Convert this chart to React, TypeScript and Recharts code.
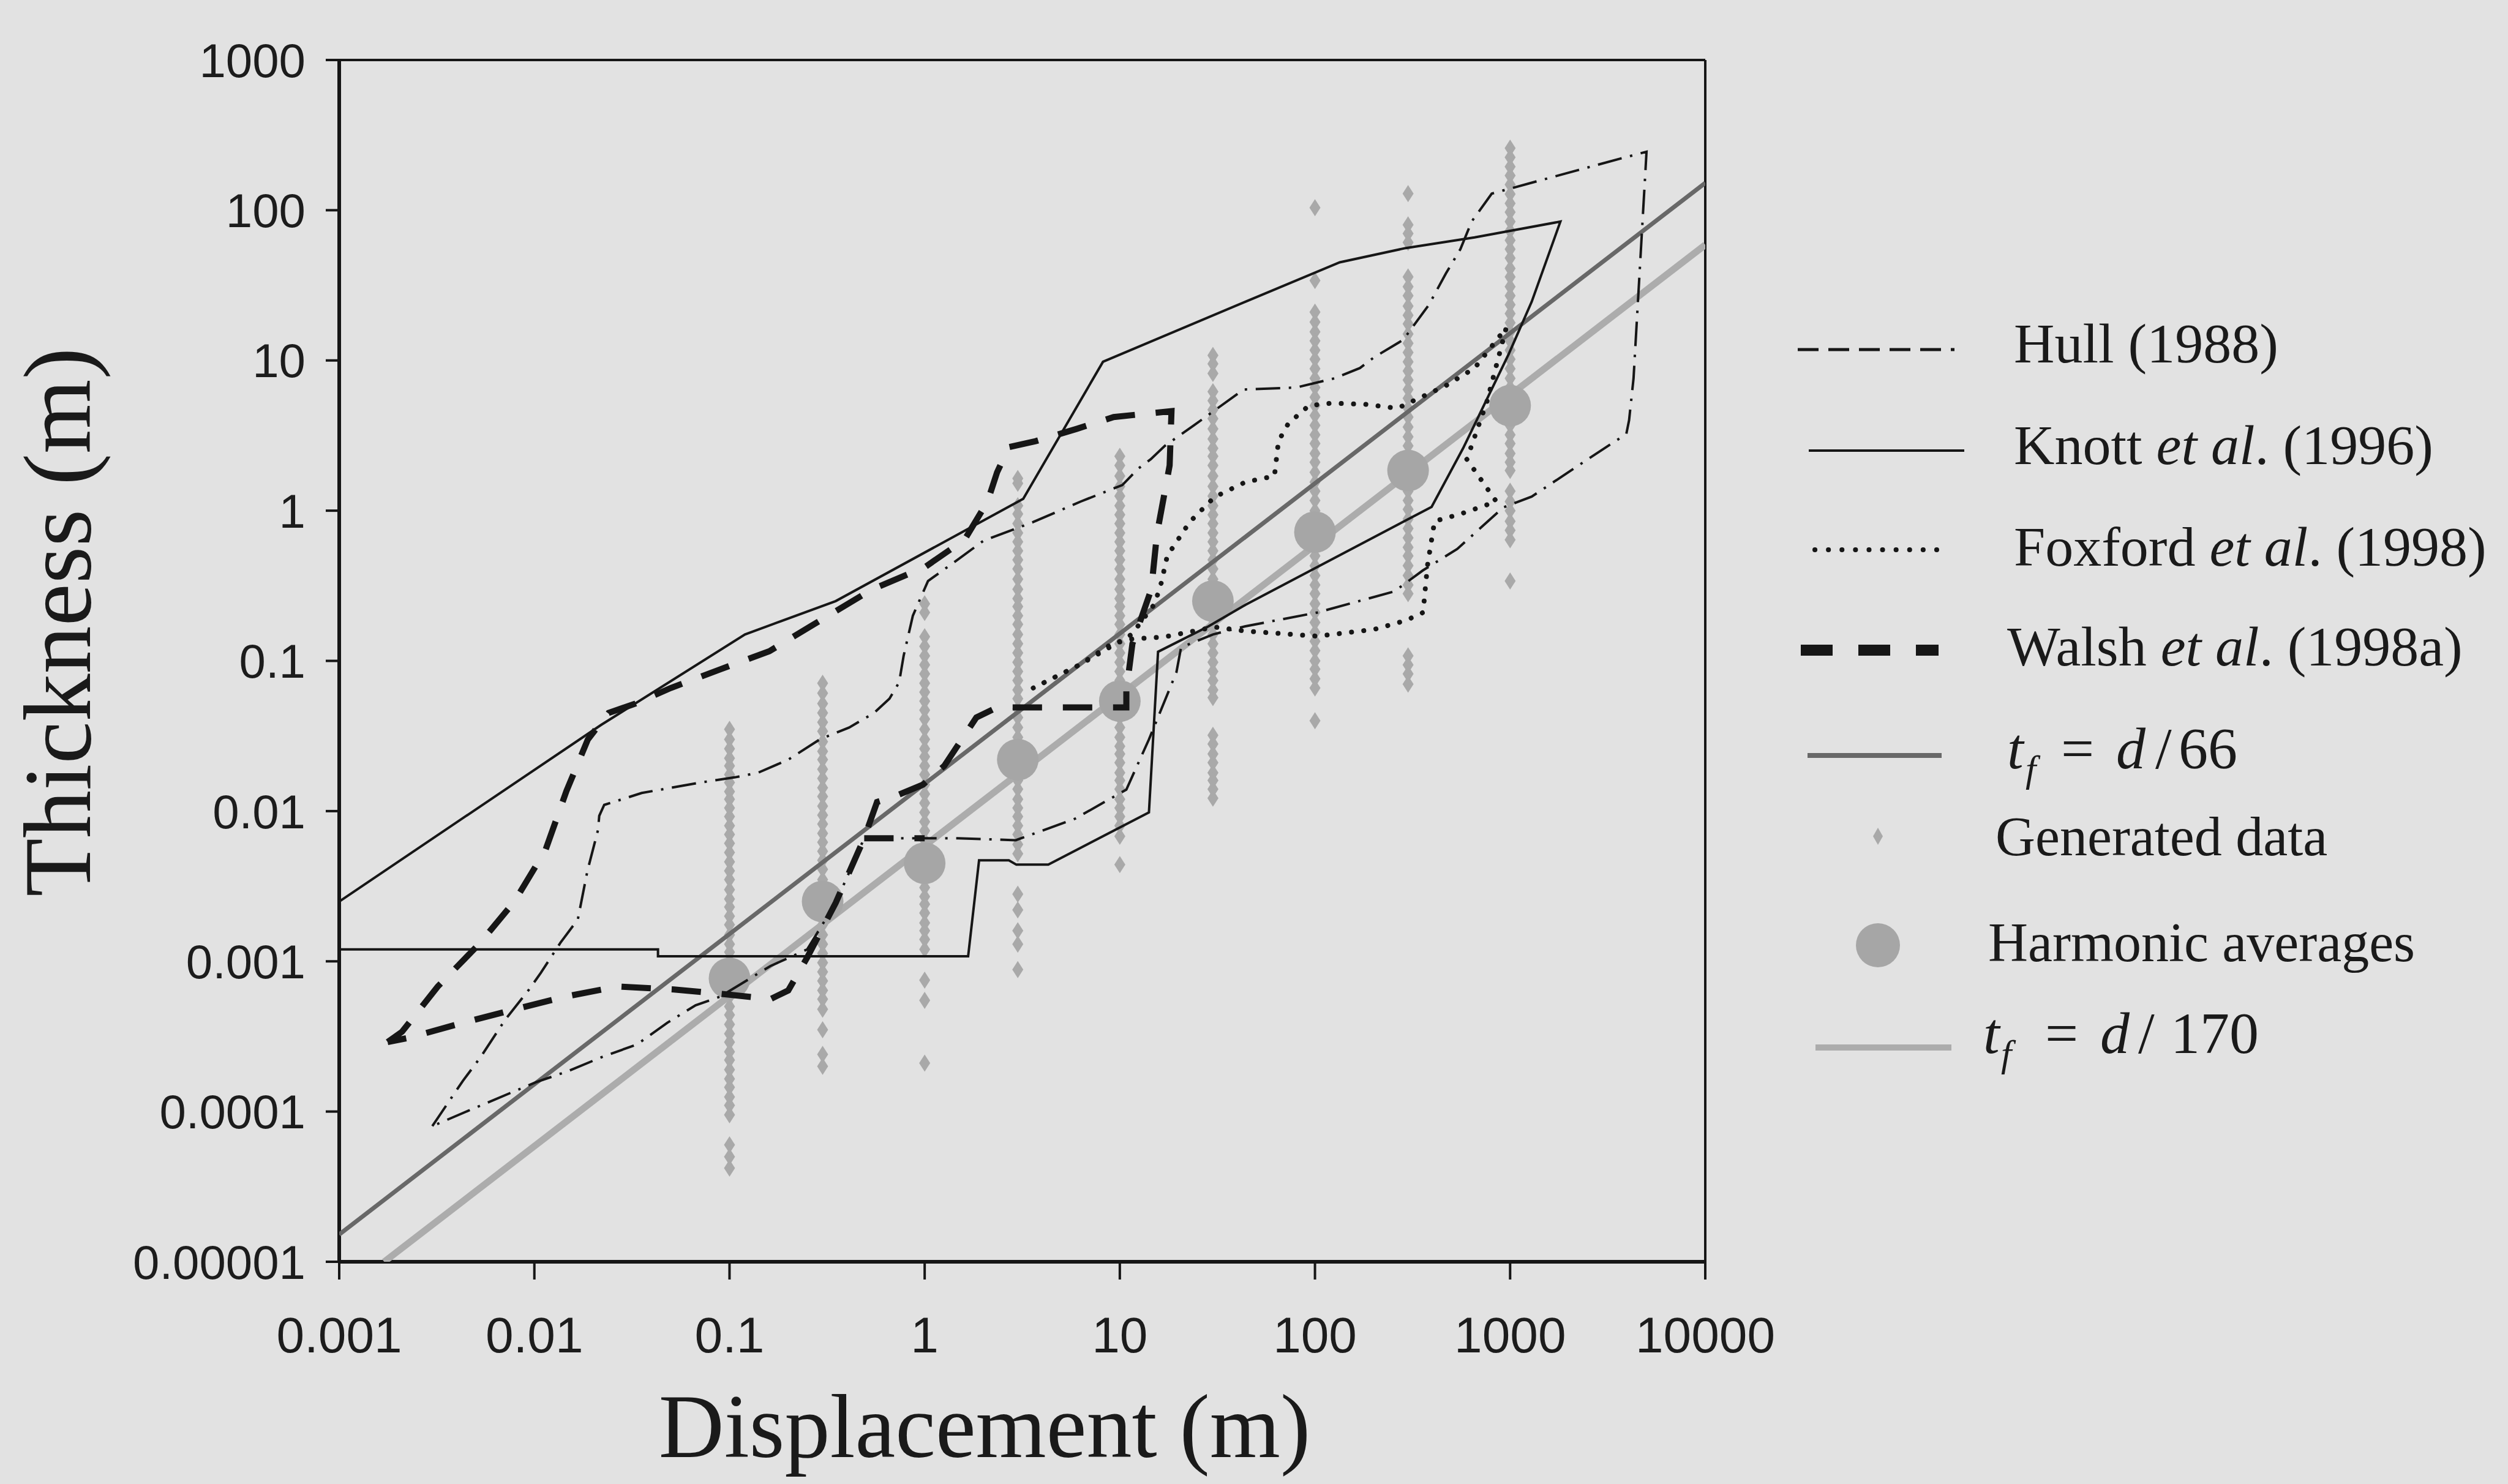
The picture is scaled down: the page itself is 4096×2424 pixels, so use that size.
import React from 'react';
import { ScatterChart, Scatter, XAxis, YAxis, ReferenceLine } from 'recharts';

type Pair = [number, number];

const xTicks = [0.001, 0.01, 0.1, 1, 10, 100, 1000, 10000];
const yTicks = [0.00001, 0.0001, 0.001, 0.01, 0.1, 1, 10, 100, 1000];

// envelopes, [displacement, thickness]
const hull: Pair[] = [
  [0.003, 0.00008], [0.0043, 0.00016], [0.0053, 0.00023], [0.0071, 0.00041], [0.0094, 0.00065],
  [0.0108, 0.00084], [0.0136, 0.00133], [0.0167, 0.0019], [0.0187, 0.004], [0.0212, 0.0075],
  [0.0215, 0.0093], [0.0228, 0.011], [0.026, 0.0116], [0.0355, 0.0132], [0.071, 0.0155],
  [0.107, 0.0168], [0.14, 0.018], [0.2, 0.022], [0.29, 0.03], [0.41, 0.036], [0.55, 0.045],
  [0.66, 0.056], [0.74, 0.072], [0.78, 0.108], [0.87, 0.2], [1.04, 0.34], [1.47, 0.47],
  [2.0, 0.63], [3.6, 0.84], [6.3, 1.15], [10.3, 1.48], [12.4, 1.9], [14.4, 2.2], [17, 2.7],
  [24, 3.7], [43, 6.4], [80, 6.6], [126, 7.6], [170, 8.9], [201, 10.5], [283, 13.7],
  [383, 23.4], [469, 38], [556, 55], [635, 84], [805, 129], [1480, 160], [3690, 221],
  [5000, 245], [4290, 7.6], [4070, 4.0], [3940, 3.24], [2540, 2.23], [1290, 1.24], [922, 1.05],
  [536, 0.556], [357, 0.4], [255, 0.29], [103, 0.21], [44, 0.17], [30, 0.15], [20.6, 0.123],
  [19.5, 0.084], [14.1, 0.03], [10.8, 0.0139], [5.9, 0.0089], [2.93, 0.0064], [1.48, 0.0066],
  [0.49, 0.0066], [0.35, 0.00245], [0.25, 0.0012], [0.162, 0.00093], [0.089, 0.00058],
  [0.067, 0.00051], [0.048, 0.00039], [0.0336, 0.00028], [0.0221, 0.00023], [0.0146, 0.000184],
  [0.0102, 0.000157], [0.0049, 0.000105], [0.003, 0.00008],
];

const knott: Pair[] = [
  [0.001, 0.0025], [0.022, 0.0375], [0.12, 0.15], [0.35, 0.25], [3.2, 1.2], [8.2, 9.8],
  [44, 24.6], [134, 45], [292, 56], [658, 66], [1810, 84], [1290, 24.6], [986, 11.1],
  [574, 2.6], [396, 1.06], [44, 0.236], [28.5, 0.17], [15.7, 0.115], [14.1, 0.0098],
  [4.3, 0.0044], [2.95, 0.0044], [2.7, 0.0047], [1.9, 0.0047], [1.67, 0.00108],
  [0.043, 0.00108], [0.043, 0.0012], [0.001, 0.0012], [0.001, 0.0025],
];

const foxford: Pair[] = [
  [3.6, 0.066], [6.3, 0.095], [9.1, 0.13], [11.6, 0.14], [16.7, 0.144], [30.5, 0.168],
  [44, 0.158], [103, 0.146], [201, 0.162], [293, 0.186], [358, 0.21], [377, 0.43], [410, 0.85],
  [556, 0.95], [850, 1.15], [600, 2.2], [760, 5.3], [955, 16.5], [658, 8.9], [469, 6.8],
  [264, 4.8], [182, 5.1], [122, 5.2], [93, 5.0], [73, 3.8], [65, 2.9], [62, 1.7], [44, 1.55],
  [30.5, 1.23], [22.8, 0.84], [17.5, 0.5], [16.3, 0.33], [15.1, 0.24], [11.5, 0.15],
  [6.3, 0.095], [3.6, 0.066],
];

const walsh: Pair[] = [
  [0.00177, 0.00029], [0.0021, 0.00034], [0.0032, 0.00068], [0.0052, 0.0013], [0.0079, 0.0025],
  [0.0114, 0.0055], [0.0146, 0.0136], [0.0188, 0.03], [0.024, 0.045], [0.033, 0.052],
  [0.05, 0.066], [0.09, 0.088], [0.16, 0.116], [0.3, 0.19], [0.54, 0.3], [1.0, 0.42],
  [1.6, 0.64], [2.1, 1.15], [2.35, 1.8], [2.7, 2.65], [3.7, 2.9], [6, 3.5], [9.3, 4.2],
  [18.4, 4.6], [18, 2.0], [15.5, 0.7], [14.5, 0.3], [11.6, 0.13], [10.8, 0.063], [10.8, 0.049],
  [2.35, 0.049], [1.84, 0.042], [1.26, 0.02], [0.98, 0.015], [0.7, 0.0125], [0.57, 0.0115],
  [0.49, 0.0066], [0.35, 0.00245], [0.25, 0.00106], [0.2, 0.00064], [0.162, 0.00056],
  [0.1, 0.0006], [0.052, 0.00065], [0.0268, 0.00068], [0.0142, 0.00058], [0.0075, 0.00047],
  [0.004, 0.00038], [0.00228, 0.00031], [0.00177, 0.00029],
];
const walshStep: Pair[] = [[0.49, 0.0066], [1.0, 0.0066]];

const fitD66: Pair[] = [[0.001, 0.0000152], [10000, 152]];
const fitD170: Pair[] = [[0.0017, 0.00001], [10000, 58.8]];

// generated data columns
const genD = [0.1, 0.3, 1, 3, 10, 30, 100, 300, 1000];
const gen01 = [0.035, 0.03, 0.026, 0.0225, 0.02, 0.0175, 0.0155, 0.0135, 0.012, 0.0105, 0.0092, 0.008, 0.007, 0.0061, 0.0053, 0.0046, 0.004, 0.0035, 0.003, 0.0026, 0.0023, 0.002, 0.00175, 0.0015, 0.0013, 0.00115, 0.001, 0.00088, 0.00077, 0.00067, 0.00058, 0.0005, 0.00044, 0.00038, 0.00033, 0.00029, 0.00025, 0.00022, 0.00019, 0.000165, 0.000145, 0.000125, 0.00011, 0.000095, 0.00006, 0.00005, 0.000042];
const gen03 = [0.071, 0.061, 0.052, 0.045, 0.039, 0.034, 0.029, 0.025, 0.022, 0.019, 0.0165, 0.0143, 0.0125, 0.0108, 0.0094, 0.0082, 0.0071, 0.0062, 0.0054, 0.0047, 0.0041, 0.0035, 0.003, 0.0026, 0.0023, 0.002, 0.00175, 0.0015, 0.0013, 0.00113, 0.00098, 0.00085, 0.00074, 0.00064, 0.00056, 0.00048, 0.00035, 0.00024, 0.0002];
const gen1 = [0.24, 0.21, 0.145, 0.125, 0.108, 0.094, 0.082, 0.071, 0.062, 0.054, 0.047, 0.041, 0.035, 0.03, 0.026, 0.023, 0.02, 0.0175, 0.015, 0.013, 0.0113, 0.0098, 0.0085, 0.0074, 0.0064, 0.0056, 0.0048, 0.0042, 0.0036, 0.0031, 0.0027, 0.0024, 0.0021, 0.0018, 0.0016, 0.0014, 0.0012, 0.00075, 0.00055, 0.00021];
const gen3 = [1.64, 1.52, 1.08, 0.95, 0.82, 0.71, 0.62, 0.54, 0.47, 0.41, 0.35, 0.3, 0.26, 0.23, 0.2, 0.175, 0.15, 0.13, 0.113, 0.098, 0.085, 0.074, 0.064, 0.056, 0.048, 0.042, 0.036, 0.031, 0.027, 0.024, 0.021, 0.018, 0.016, 0.014, 0.012, 0.0105, 0.0092, 0.008, 0.007, 0.006, 0.0052, 0.0028, 0.0022, 0.0016, 0.0013, 0.00088];
const gen10 = [2.3, 2.0, 1.7, 1.45, 1.25, 1.08, 0.94, 0.82, 0.71, 0.62, 0.54, 0.47, 0.41, 0.35, 0.3, 0.26, 0.23, 0.2, 0.175, 0.15, 0.13, 0.113, 0.098, 0.085, 0.074, 0.064, 0.056, 0.048, 0.042, 0.036, 0.031, 0.027, 0.024, 0.021, 0.018, 0.016, 0.014, 0.012, 0.0105, 0.0092, 0.008, 0.0068, 0.0044];
const gen30 = [10.8, 9.5, 8.2, 6.2, 5.4, 4.7, 4.1, 3.5, 3.0, 2.6, 2.3, 2.0, 1.7, 1.45, 1.25, 1.08, 0.94, 0.82, 0.71, 0.62, 0.54, 0.47, 0.41, 0.35, 0.3, 0.26, 0.23, 0.2, 0.175, 0.15, 0.13, 0.113, 0.098, 0.085, 0.074, 0.064, 0.057, 0.032, 0.028, 0.024, 0.021, 0.018, 0.016, 0.014, 0.0122];
const gen100 = [104, 34, 21, 18, 15.5, 13.5, 11.7, 10.2, 8.8, 7.6, 6.6, 5.7, 5.0, 4.3, 3.7, 3.2, 2.8, 2.4, 2.1, 1.8, 1.55, 1.35, 1.17, 1.0, 0.88, 0.76, 0.66, 0.57, 0.5, 0.43, 0.37, 0.32, 0.28, 0.24, 0.21, 0.18, 0.155, 0.135, 0.117, 0.1, 0.088, 0.076, 0.066, 0.04];
const gen300 = [129, 80, 70, 61, 36, 31, 27, 23, 20, 17.5, 15, 13, 11.3, 9.8, 8.5, 7.4, 6.4, 5.6, 4.8, 4.2, 3.6, 3.1, 2.7, 2.35, 2.05, 1.78, 1.55, 1.35, 1.17, 1.02, 0.88, 0.76, 0.66, 0.57, 0.5, 0.43, 0.37, 0.32, 0.28, 0.108, 0.094, 0.082, 0.07];
const gen1000 = [259, 225, 195, 170, 148, 128, 111, 97, 84, 73, 63, 55, 48, 41, 36, 31, 27, 23.5, 20.5, 17.8, 15.5, 13.5, 11.7, 10.2, 8.8, 7.6, 6.6, 5.7, 5.0, 4.3, 3.7, 3.2, 2.8, 2.4, 2.1, 1.85, 1.35, 1.15, 1.0, 0.85, 0.74, 0.64, 0.34];
const genColumns = [gen01, gen03, gen1, gen3, gen10, gen30, gen100, gen300, gen1000];

const harmonicT = [0.00077, 0.0025, 0.0045, 0.022, 0.054, 0.25, 0.72, 1.85, 5.0];

const toPts = (pairs: Pair[]) => pairs.map(([d, t]) => ({ d, t }));
const generated = genD.flatMap((d, i) => genColumns[i].map((t) => ({ d, t })));
const harmonic = genD.map((d, i) => ({ d, t: harmonicT[i] }));

const INK = '#161616';
const GEN = '#a9a9a9';
const sans = '"Liberation Sans", Arial, sans-serif';
const serif = '"Liberation Serif", "Times New Roman", serif';

const NoDot = () => <g />;
const DiamondDot = (p: any) => (
  <path
    d={`M${p.cx},${p.cy - 14}L${p.cx + 9},${p.cy}L${p.cx},${p.cy + 14}L${p.cx - 9},${p.cy}Z`}
    fill={GEN}
  />
);
const BigDot = (p: any) => <circle cx={p.cx} cy={p.cy} r={34} fill="#a6a6a6" />;

const hullStyle = { stroke: INK, strokeWidth: 4, strokeDasharray: '40 14 4 14' };
const knottStyle = { stroke: INK, strokeWidth: 4 };
const foxStyle = { stroke: INK, strokeWidth: 8, strokeDasharray: '0.1 20', strokeLinecap: 'round' };
const walshStyle = { stroke: INK, strokeWidth: 10, strokeDasharray: '48 34' };

export default function App() {
  return (
    <div
      style={{
        position: 'absolute',
        left: 0,
        top: 0,
        width: 4096,
        height: 2424,
        background: '#e2e2e2',
        overflow: 'hidden',
      }}
    >
      <ScatterChart width={4096} height={2424} margin={{ top: 98, right: 1311, bottom: 0, left: 0 }}>
        <XAxis
          type="number"
          dataKey="d"
          scale="log"
          domain={[0.001, 10000]}
          ticks={xTicks}
          interval={0}
          allowDataOverflow
          height={363}
          tickFormatter={(v) => String(v)}
          tick={{ fontSize: 82, fill: '#1c1c1c', fontFamily: sans }}
          tickSize={29}
          tickMargin={61}
          axisLine={{ stroke: INK, strokeWidth: 6 }}
          tickLine={{ stroke: INK, strokeWidth: 4 }}
        />
        <YAxis
          type="number"
          dataKey="t"
          scale="log"
          domain={[0.00001, 1000]}
          ticks={yTicks}
          interval={0}
          allowDataOverflow
          width={554}
          tickFormatter={(v) => String(v)}
          tick={{ fontSize: 78, fill: '#1c1c1c', fontFamily: sans }}
          tickSize={22}
          tickMargin={33}
          axisLine={{ stroke: INK, strokeWidth: 6 }}
          tickLine={{ stroke: INK, strokeWidth: 4 }}
        />
        <ReferenceLine y={1000} stroke={INK} strokeWidth={4} />
        <ReferenceLine x={10000} stroke={INK} strokeWidth={4} />

        <Scatter name="Generated data" data={generated} shape={DiamondDot} isAnimationActive={false} />
        <Scatter
          name="d170"
          data={toPts(fitD170)}
          shape={NoDot}
          line={{ stroke: '#acacac', strokeWidth: 11 }}
          isAnimationActive={false}
        />
        <Scatter name="Harmonic averages" data={harmonic} shape={BigDot} isAnimationActive={false} />
        <Scatter
          name="d66"
          data={toPts(fitD66)}
          shape={NoDot}
          line={{ stroke: '#686868', strokeWidth: 7 }}
          isAnimationActive={false}
        />
        <Scatter name="Hull" data={toPts(hull)} shape={NoDot} line={hullStyle} isAnimationActive={false} />
        <Scatter name="Knott" data={toPts(knott)} shape={NoDot} line={knottStyle} isAnimationActive={false} />
        <Scatter name="Foxford" data={toPts(foxford)} shape={NoDot} line={foxStyle} isAnimationActive={false} />
        <Scatter name="Walsh" data={toPts(walsh)} shape={NoDot} line={walshStyle} isAnimationActive={false} />
        <Scatter name="Walsh step" data={toPts(walshStep)} shape={NoDot} line={walshStyle} isAnimationActive={false} />
      </ScatterChart>

      {/* titles and legend */}
      <svg
        width={4096}
        height={2424}
        style={{ position: 'absolute', left: 0, top: 0, pointerEvents: 'none' }}
      >
        <text
          x={147}
          y={1016}
          transform="rotate(-90 147 1016)"
          textAnchor="middle"
          fontSize={156}
          fontFamily={serif}
          fill="#1a1a1a"
        >
          Thickness (m)
        </text>
        <text x={1608} y={2380} textAnchor="middle" fontSize={148} fontFamily={serif} fill="#1a1a1a">
          Displacement (m)
        </text>

        <g fontFamily={serif} fill="#1a1a1a" fontSize={92}>
          <line x1={2936} x2={3192} y1={571} y2={571} stroke={INK} strokeWidth={5} strokeDasharray="34 16" />
          <text x={3289} y={592}>Hull (1988)</text>

          <line x1={2954} x2={3208} y1={736} y2={736} stroke={INK} strokeWidth={4} />
          <text x={3289} y={758}>
            Knott <tspan fontStyle="italic">et al</tspan>. (1996)
          </text>

          <line
            x1={2964}
            x2={3174}
            y1={898}
            y2={898}
            stroke={INK}
            strokeWidth={8}
            strokeDasharray="0.1 22"
            strokeLinecap="round"
          />
          <text x={3289} y={924}>
            Foxford <tspan fontStyle="italic">et al</tspan>. (1998)
          </text>

          <line x1={2941} x2={3166} y1={1062} y2={1062} stroke={INK} strokeWidth={18} strokeDasharray="52 42" />
          <text x={3278} y={1087}>
            Walsh <tspan fontStyle="italic">et al</tspan>. (1998a)
          </text>

          <line x1={2952} x2={3171} y1={1234} y2={1234} stroke="#686868" strokeWidth={8} />
          <text y={1255} fontSize={96}>
            <tspan x={3278} fontStyle="italic">t</tspan>
            <tspan x={3308} dy={22} fontSize={62} fontStyle="italic">f</tspan>
            <tspan x={3366} dy={-22}>=</tspan>
            <tspan x={3456} fontStyle="italic">d</tspan>
            <tspan x={3520}>/</tspan>
            <tspan x={3558}>66</tspan>
          </text>

          <path d="M3067,1352L3075,1366L3067,1380L3059,1366Z" fill={GEN} />
          <text x={3259} y={1397} fontSize={90}>Generated data</text>

          <circle cx={3067} cy={1544} r={36} fill="#a6a6a6" />
          <text x={3247} y={1570} fontSize={90}>Harmonic averages</text>

          <line x1={2965} x2={3187} y1={1711} y2={1711} stroke="#acacac" strokeWidth={10} />
          <text y={1720} fontSize={96}>
            <tspan x={3239} fontStyle="italic">t</tspan>
            <tspan x={3268} dy={22} fontSize={62} fontStyle="italic">f</tspan>
            <tspan x={3340} dy={-22}>=</tspan>
            <tspan x={3430} fontStyle="italic">d</tspan>
            <tspan x={3492}>/</tspan>
            <tspan x={3545}>170</tspan>
          </text>
        </g>
      </svg>
    </div>
  );
}
